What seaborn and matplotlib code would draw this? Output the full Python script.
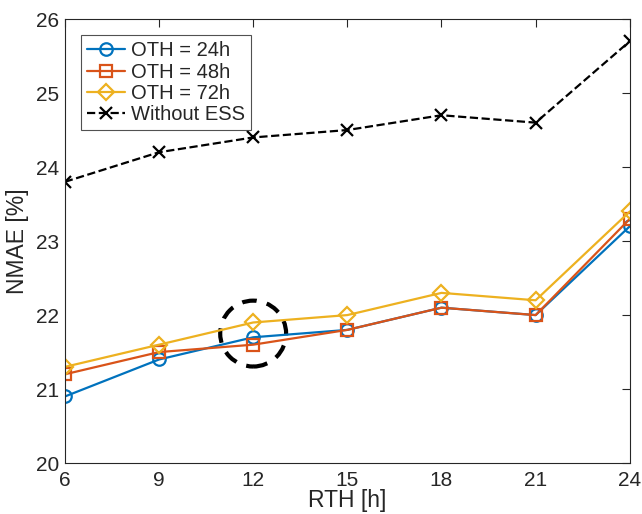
import matplotlib
matplotlib.use("Agg")
import matplotlib.pyplot as plt
import seaborn as sns
import pandas as pd
from matplotlib.patches import Ellipse

rth = [6, 9, 12, 15, 18, 21, 24]
oth24 = [20.9, 21.4, 21.7, 21.8, 22.1, 22.0, 23.2]
oth48 = [21.2, 21.5, 21.6, 21.8, 22.1, 22.0, 23.3]
oth72 = [21.3, 21.6, 21.9, 22.0, 22.3, 22.2, 23.4]
no_ess = [23.8, 24.2, 24.4, 24.5, 24.7, 24.6, 25.7]
labels = ["OTH = 24h", "OTH = 48h", "OTH = 72h", "Without ESS"]

sns.set_style("white")
plt.rcParams['font.family'] = ['Liberation Sans', 'DejaVu Sans']

fig = plt.figure(figsize=(6.42, 5.14), dpi=100)
ax = fig.add_axes([0.101, 0.099, 0.880, 0.864])

series = [
    (oth24, labels[0], "#0072BD", "o", "-", 9),
    (oth48, labels[1], "#D95319", "s", "-", 8.5),
    (oth72, labels[2], "#EDB120", "D", "-", 8.5),
    (no_ess, labels[3], "black", "x", "--", 9),
]
for vals, lab, col, mk, ls, ms in series:
    df = pd.DataFrame({"RTH": rth, "NMAE": vals})
    sns.lineplot(data=df, x="RTH", y="NMAE", ax=ax, color=col, marker=mk,
                 linestyle=ls, linewidth=1.6, markersize=ms,
                 markerfacecolor="none", markeredgecolor=col,
                 markeredgewidth=1.6, label=lab)

ax.add_patch(Ellipse((12, 21.75), 2.1, 0.89, fill=False, edgecolor="black",
                     linestyle=(0, (3.5, 2.5)), linewidth=3))

ax.set_xlim(6, 24)
ax.set_ylim(20, 26)
ax.set_xticks(rth)
ax.set_yticks([20, 21, 22, 23, 24, 25, 26])
ax.set_xlabel("RTH [h]", fontsize=16.5, labelpad=-1)
ax.set_ylabel("NMAE [%]", fontsize=16.5, labelpad=5)
ax.tick_params(axis="both", which="both", direction="in", length=6, width=0.8,
               top=True, right=True, labelsize=15, colors="#262626", pad=4)
ax.tick_params(axis="x", pad=6)
for s in ax.spines.values():
    s.set_color("#262626")
    s.set_linewidth(0.8)
    s.set_visible(True)

leg = ax.legend(loc="upper left", fontsize=14.5, frameon=True, fancybox=False,
                edgecolor="#262626", handlelength=1.9, handletextpad=0.3,
                borderpad=0.3, labelspacing=0.12, borderaxespad=0.8)
leg.get_frame().set_linewidth(0.8)

fig.savefig("out.png", dpi=100)
